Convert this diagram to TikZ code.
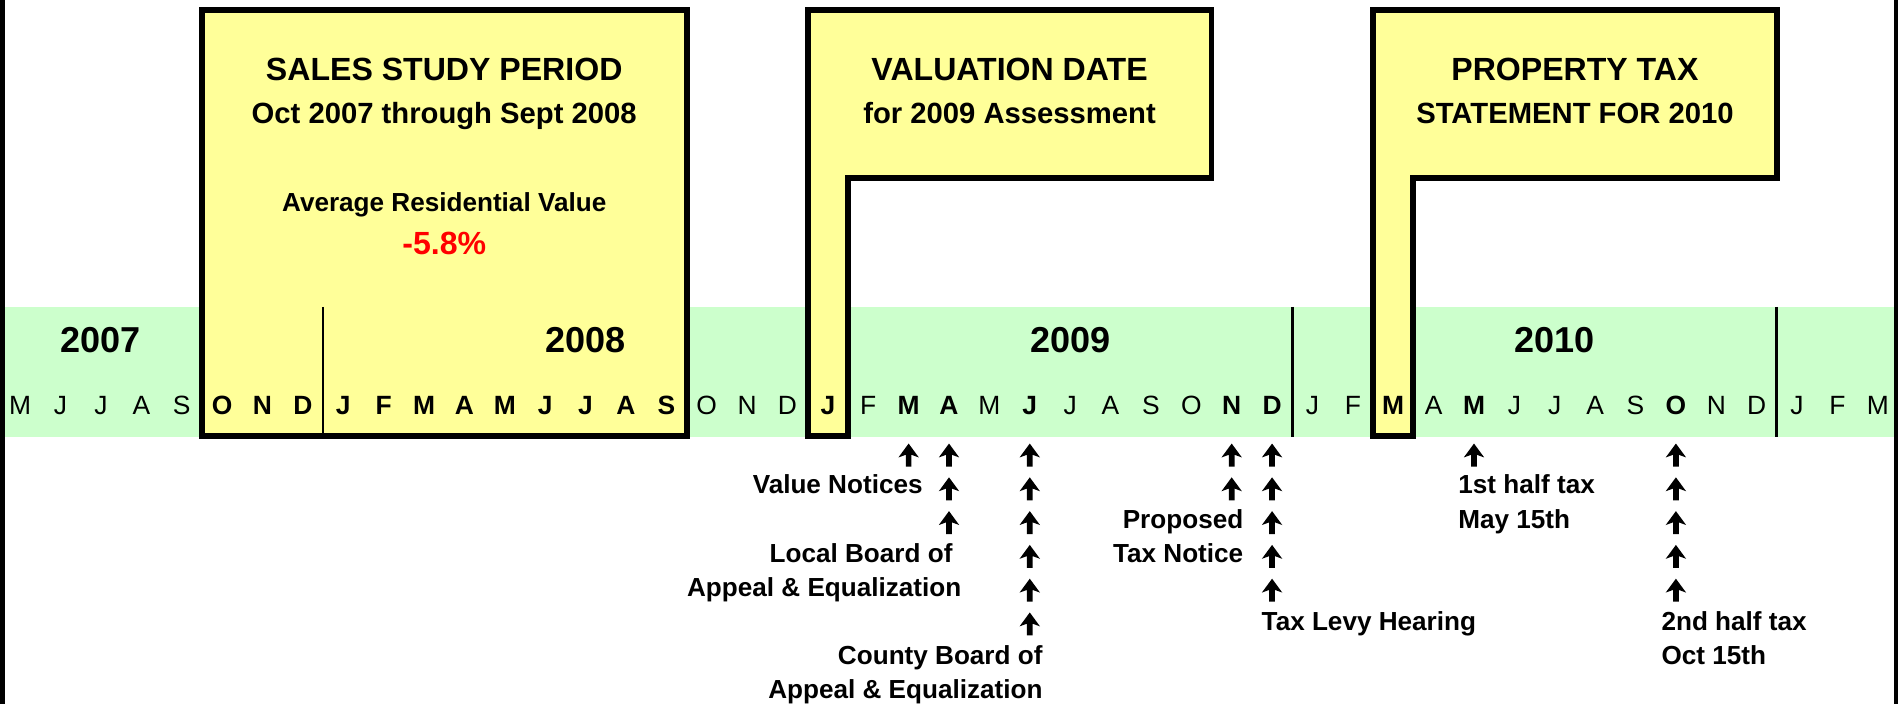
\documentclass[tikz,border=0pt]{standalone}
\usepackage{fontspec}
\setmainfont{Liberation Sans}
\definecolor{bandgreen}{HTML}{CCFFCC}
\definecolor{flagyellow}{HTML}{FFFF99}
\begin{document}
\begin{tikzpicture}[x=0.5cm,y=-0.0123815cm,
    flag/.style={draw=black,fill=flagyellow,line width=2.1pt},
    headline/.style={anchor=base,inner sep=0pt,font=\fontsize{11.3}{13}\selectfont\bfseries},
    subline/.style={anchor=base,inner sep=0pt,font=\fontsize{10.3}{12}\selectfont\bfseries},
    year/.style={anchor=base,inner sep=0pt,font=\fontsize{12.7}{15}\selectfont\bfseries},
    month/.style={anchor=base,inner sep=0pt,font=\fontsize{9.3}{11}\selectfont},
    note/.style={inner sep=0pt,font=\fontsize{9.2}{11}\selectfont\bfseries},
    uptick/.pic={\fill (0,4.05pt) -- (3.6pt,-0.85pt) -- (1pt,0.1pt) -- (1pt,-4.05pt)
        -- (-1pt,-4.05pt) -- (-1pt,0.1pt) -- (-3.6pt,-0.85pt) -- cycle;}]
    \useasboundingbox (0,0) rectangle (47,704);
    \fill[bandgreen] (0,307) rectangle (47,437);
    \fill[black] (0,0) rectangle (0.12,704);
    \fill[black] (46.89,0) rectangle (47,704);
    \draw[line width=1pt] (32,307) -- (32,437);
    \draw[line width=1pt] (44,307) -- (44,437);
    \draw[flag] (5,10) rectangle (17,436);
    \draw[line width=1pt] (8,307) -- (8,436);
    \draw[flag] (20,10) -- (30,10) -- (30,178) -- (21,178) -- (21,436) -- (20,436) -- cycle;
    \draw[flag] (34,10) -- (44,10) -- (44,178) -- (35,178) -- (35,436) -- (34,436) -- cycle;
    \node[headline] (SP) at (11,81) {SALES STUDY PERIOD};
    \node[subline] (SR) at (11,124) {Oct 2007 through Sept 2008};
    \node[note,anchor=base] (AV) at (11,212) {Average Residential Value};
    \node[headline,red] (CH) at (11,255) {-5.8\%};
    \node[headline] (VD) at (25,81) {VALUATION DATE};
    \node[subline] (VA) at (25,124) {for 2009 Assessment};
    \node[headline] (PT) at (39,81) {PROPERTY TAX};
    \node[subline] (PS) at (39,124) {STATEMENT FOR 2010};
    \foreach \y/\x in {2007/2.5,2008/14.5,2009/26.5,2010/38.5}
        \node[year] (Y\y) at (\x,353) {\y};
    \foreach \m/\w [count=\i from 0] in {M/0,J/0,J/0,A/0,S/0,O/1,N/1,D/1,
        J/1,F/1,M/1,A/1,M/1,J/1,J/1,A/1,S/1,O/0,N/0,D/0,
        J/1,F/0,M/1,A/1,M/0,J/1,J/0,A/0,S/0,O/0,N/1,D/1,
        J/0,F/0,M/1,A/0,M/1,J/0,J/0,A/0,S/0,O/1,N/0,D/0,
        J/0,F/0,M/0}
        \node[month] (M\i) at (\i+0.5,415) {\ifnum\w>0 \bfseries\fi\m};
    \foreach \x/\n in {22.5/1,23.5/3,25.5/6,30.5/2,31.5/5,36.5/1,41.5/5}
        \foreach \k in {1,...,\n}
            \pic at (\x,{455.3+33.8*(\k-1)}) {uptick};
    \node[note,anchor=base east] (VN) at (22.86,494) {Value Notices};
    \node[note,anchor=base east] (LB) at (23.60,562.5) {Local Board of};
    \node[note,anchor=base east] (LA) at (23.82,596.5) {Appeal \& Equalization};
    \node[note,anchor=base east] (CB) at (25.83,664.8) {County Board of};
    \node[note,anchor=base east] (CA) at (25.83,698.8) {Appeal \& Equalization};
    \node[note,anchor=base east] (PN) at (30.80,528.5) {Proposed};
    \node[note,anchor=base east] (TN) at (30.80,562.5) {Tax Notice};
    \node[note,anchor=base west] (LH) at (31.23,630.5) {Tax Levy Hearing};
    \node[note,anchor=base west] (FH) at (36.10,494) {1st half tax};
    \node[note,anchor=base west] (FD) at (36.10,528.5) {May 15th};
    \node[note,anchor=base west] (SH) at (41.13,630.5) {2nd half tax};
    \node[note,anchor=base west] (SD) at (41.13,664.6) {Oct 15th};
\end{tikzpicture}
\end{document}
